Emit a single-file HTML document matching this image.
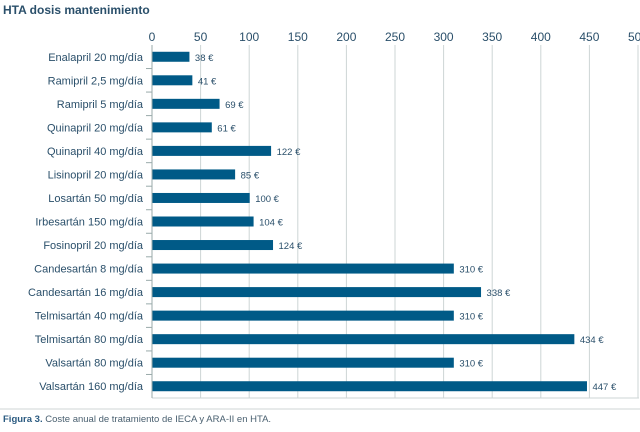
<!DOCTYPE html>
<html><head><meta charset="utf-8"><style>
body{margin:0;background:#fff;width:640px;height:427px;overflow:hidden;font-family:"Liberation Sans",sans-serif}
svg text{font-family:"Liberation Sans",sans-serif}
</style></head><body>
<svg width="640" height="427">
<text x="3" y="14" font-size="12" font-weight="bold" fill="#2a4f6a">HTA dosis mantenimiento</text>
<g id="grid"></g><g id="bars"></g>
<line x1="0" y1="409" x2="640" y2="409" stroke="#cfd6d6"/>
<text x="3" y="422" font-size="9.5" fill="#4a6070"><tspan font-weight="bold" fill="#2a5a80">Figura 3.</tspan> Coste anual de tratamiento de IECA y ARA-II en HTA.</text>
</svg>
<script>
const categories=["Enalapril 20 mg/día","Ramipril 2,5 mg/día","Ramipril 5 mg/día","Quinapril  20 mg/día","Quinapril  40 mg/día","Lisinopril 20 mg/día","Losartán 50 mg/día","Irbesartán 150 mg/día","Fosinopril  20 mg/día","Candesartán 8 mg/día","Candesartán 16 mg/día","Telmisartán 40 mg/día","Telmisartán 80 mg/día","Valsartán 80 mg/día","Valsartán 160 mg/día"];
const values=[38,41,69,61,122,85,100,104,124,310,338,310,434,310,447];
const ticks=[0,50,100,150,200,250,300,350,400,450,500];
const NS="http://www.w3.org/2000/svg";
const X0=152,SC=0.972,PTOP=45,PBOT=398,ROWH=(PBOT-PTOP)/15;
const xs=v=>X0+v*SC;
const g=document.getElementById('grid'),b=document.getElementById('bars');
function mk(p,t,a){const e=document.createElementNS(NS,t);for(const k in a)e.setAttribute(k,a[k]);p.appendChild(e);return e;}
ticks.forEach(t=>{
 const l=mk(g,'line',{x1:xs(t),x2:xs(t),y1:PTOP,y2:PBOT,stroke:'#cdd5d5'});
 
 
 const tx=mk(g,'text',{x:xs(t),y:41,'font-size':12,'text-anchor':'middle',fill:'#2a4f6a'});
 tx.textContent=t;
 
 
});
const bl=mk(g,'line',{x1:X0,x2:639,y1:PBOT,y2:PBOT,stroke:'#cdd5d5'});


const ax=mk(g,'line',{x1:X0,x2:X0,y1:PTOP,y2:PBOT,stroke:'#9aa'});


categories.forEach((c,i)=>{
 const cy=PTOP+ROWH*(i+0.5);
 if(i>0){const tk=mk(g,'line',{x1:X0-6,x2:X0,y1:PTOP+ROWH*i,y2:PTOP+ROWH*i,stroke:'#9aa'});
 
 }
 const lab=mk(b,'text',{x:X0-9,y:cy+4,'font-size':11,'text-anchor':'end',fill:'#2a4f6a'});
 lab.textContent=c;
 
 
 const r=mk(b,'rect',{x:X0+0.5,y:cy-5,width:values[i]*SC,height:10,fill:'#005a87'});
 
 
 const vl=mk(b,'text',{x:xs(values[i])+6,y:cy+4,'font-size':9.5,fill:'#2a4f6a'});
 vl.textContent=values[i]+' €';
 
 
});
</script>
</body></html>
